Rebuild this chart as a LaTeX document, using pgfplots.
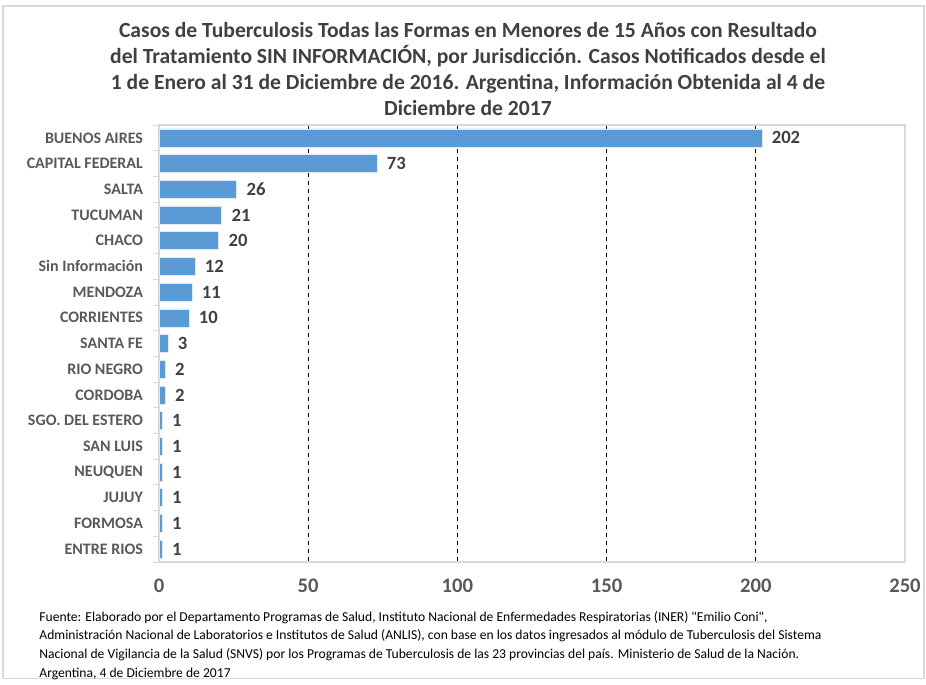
\documentclass[border=0pt]{standalone}
\usepackage{pgfplots}
\pgfplotsset{compat=1.18}
\usepackage{fontspec}
\setmainfont{Carlito}
\newfontfamily\plainfont{Carlito}[Ligatures=TeXOff]
\definecolor{barblue}{HTML}{5B9BD5}
\definecolor{txtgray}{HTML}{595959}
\definecolor{ttlgray}{HTML}{404040}
\definecolor{axgray}{HTML}{D9D9D9}
\begin{document}
\begin{tikzpicture}
\path (0,0) rectangle (694.5pt,-510pt);
\draw[axgray, line width=0.8pt] (2.25pt,-4.5pt) rectangle (693pt,-509pt);
\node[align=center, font=\fontsize{16.2}{19.5}\selectfont\bfseries, text=ttlgray] at (351pt,-51.5pt)
{Casos de Tuberculosis Todas las Formas en Menores de 15 Años con Resultado\\
del Tratamiento SIN INFORMACIÓN, por Jurisdicción. Casos Notificados desde el\\
1 de Enero al 31 de Diciembre de 2016. Argentina, Información Obtenida al 4 de\\
Diciembre de 2017};
\begin{axis}[
  at={(119.25pt,-421.5pt)}, anchor=south west,
  scale only axis, width=559.5pt, height=327.75pt,
  xmin=0, xmax=250, xtick={0,50,...,250},
  ymin=-0.5, ymax=16.5, y dir=reverse,
  ytick={0,...,16}, ytick pos=left,
  yticklabels={BUENOS AIRES,CAPITAL FEDERAL,SALTA,TUCUMAN,CHACO,Sin Información,MENDOZA,CORRIENTES,SANTA FE,RIO NEGRO,CORDOBA,SGO. DEL ESTERO,SAN LUIS,NEUQUEN,JUJUY,FORMOSA,ENTRE RIOS},
  minor ytick={-0.5,0.5,...,16.5},
  major tick length=0pt, minor tick length=4.5pt,
  tick align=outside,
  minor tick style={axgray, line width=0.6pt},
  axis line style={axgray, line width=0.8pt},
  xmajorgrids, major grid style={black, dashed, line width=0.8pt},
  yticklabel style={font=\fontsize{12}{14}\selectfont\bfseries, text=txtgray, xshift=-8.5pt},
  xticklabel style={font=\fontsize{15.5}{17}\selectfont\bfseries, text=txtgray, yshift=-9pt},
  /pgf/number format/assume math mode=true,
  xbar, bar width=0.7,
  nodes near coords,
  every node near coord/.append style={font=\fontsize{14}{16}\selectfont\bfseries, text=ttlgray, xshift=4pt},
]
\addplot[fill=barblue, draw=white!80!barblue, line width=0.4pt] coordinates {
(202,0) (73,1) (26,2) (21,3) (20,4) (12,5) (11,6) (10,7) (3,8) (2,9) (2,10) (1,11) (1,12) (1,13) (1,14) (1,15) (1,16)};
\end{axis}
\node[anchor=north west, align=left, font=\plainfont\fontsize{10.2}{14}\selectfont, text=black] at (26pt,-455pt)
{Fuente: Elaborado por el Departamento Programas de Salud, Instituto Nacional de Enfermedades Respiratorias (INER) "Emilio Coni",\\
Administración Nacional de Laboratorios e Institutos de Salud (ANLIS), con base en los datos ingresados al módulo de Tuberculosis del Sistema\\
Nacional de Vigilancia de la Salud (SNVS) por los Programas de Tuberculosis de las 23 provincias del país. Ministerio de Salud de la Nación.\\
Argentina, 4 de Diciembre de 2017};
\end{tikzpicture}
\end{document}
